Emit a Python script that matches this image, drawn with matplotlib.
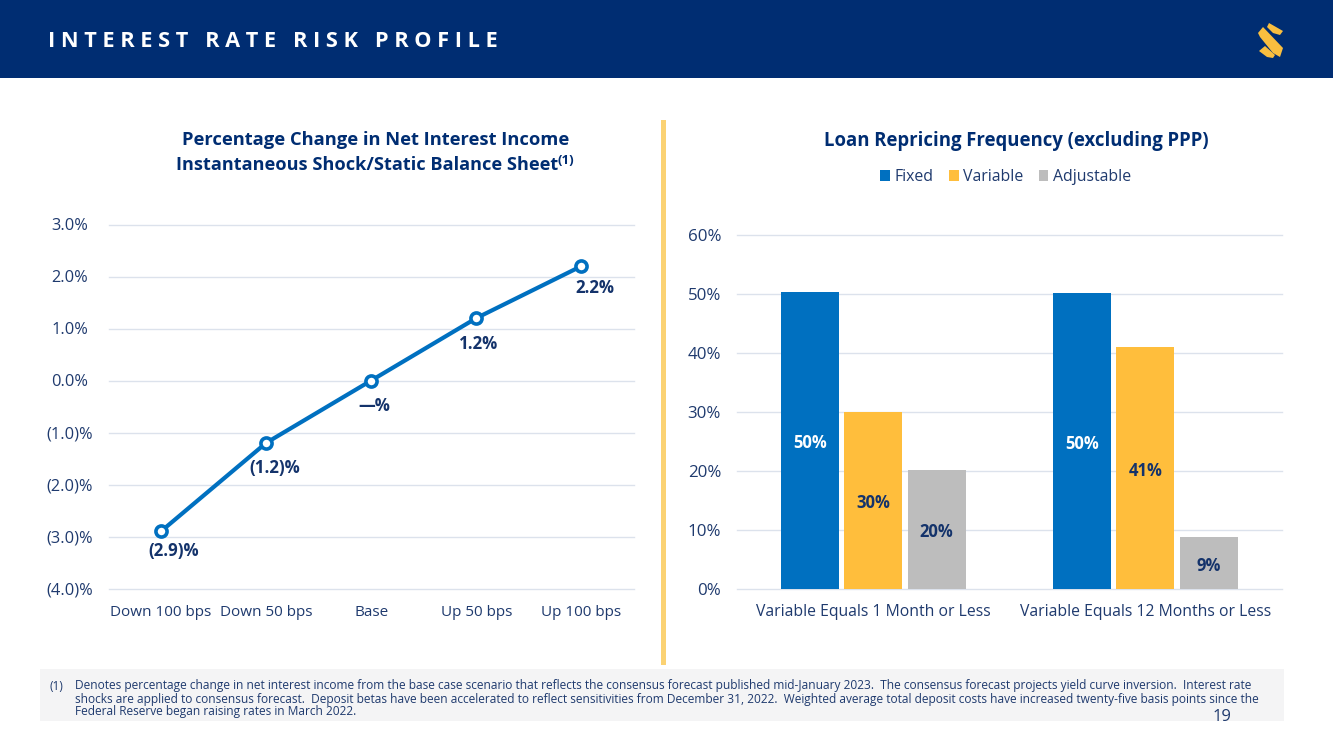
import numpy as np
import matplotlib
matplotlib.use('Agg')
import matplotlib.pyplot as plt
from matplotlib.patches import Rectangle, Polygon

plt.rcParams['font.family'] = ['Open Sans', 'DejaVu Sans']

W, H = 1333, 749
NAVY = '#002D72'
TEXT = '#1F3A6E'
DARK = '#14336B'
BLUE = '#0070C0'
GOLD = '#FFBE3C'
GREY = '#BDBDBD'
GRID = '#DCE2EC'

# left chart
shock_labels = ['Down 100 bps', 'Down 50 bps', 'Base', 'Up 50 bps', 'Up 100 bps']
nii_change = [-2.9, -1.2, 0.0, 1.2, 2.2]
nii_labels = ['(2.9)%', '(1.2)%', '—%', '1.2%', '2.2%']
nii_ticks = [-4, -3, -2, -1, 0, 1, 2, 3]
nii_ticklabels = ['(4.0)%', '(3.0)%', '(2.0)%', '(1.0)%', '0.0%', '1.0%', '2.0%', '3.0%']

# right chart
loan_groups = ['Variable Equals 1 Month or Less', 'Variable Equals 12 Months or Less']
fixed = [50.3, 50.2]
variable = [30.0, 41.0]
adjustable = [20.2, 8.8]
fixed_labels = ['50%', '50%']
variable_labels = ['30%', '41%']
adjustable_labels = ['20%', '9%']
loan_ticks = [0, 10, 20, 30, 40, 50, 60]

header = 'I N T E R E S T   R A T E   R I S K   P R O F I L E'
footnote = [
    'Denotes percentage change in net interest income from the base case scenario that reflects the consensus forecast published mid-January 2023.  The consensus forecast projects yield curve inversion.  Interest rate',
    'shocks are applied to consensus forecast.  Deposit betas have been accelerated to reflect sensitivities from December 31, 2022.  Weighted average total deposit costs have increased twenty-five basis points since the',
    'Federal Reserve began raising rates in March 2022.',
]


def px_axes(x0, y0, x1, y1):
    # pixel box, y from the top
    return fig.add_axes([x0 / W, 1 - y1 / H, (x1 - x0) / W, (y1 - y0) / H])


fig = plt.figure(figsize=(W / 100, H / 100), dpi=100, facecolor='white')

# page furniture in pixel coords
bg = fig.add_axes([0, 0, 1, 1])
bg.set_xlim(0, W)
bg.set_ylim(H, 0)
bg.axis('off')
bg.add_patch(Rectangle((0, 0), W, 78, color=NAVY, lw=0))
bg.add_patch(Rectangle((660.5, 120), 5, 545, color='#FBD273', lw=0))
bg.add_patch(Rectangle((40, 669), 1244, 52, color='#F4F4F5', lw=0))
bg.text(48, 41.5, header, color='white', fontsize=15.7, fontweight='bold', va='center', ha='left')

# logo
bg.add_patch(Polygon([(1269, 23), (1283, 31), (1280, 35), (1273, 33), (1267, 27)], color='#F9BE3F', lw=0))
bg.add_patch(Polygon([(1258, 33), (1263, 27), (1283, 48), (1280, 57), (1273, 53), (1260, 37)], color='#F9BE3F', lw=0))
bg.add_patch(Polygon([(1259, 51), (1265, 46), (1275, 55), (1273, 58), (1267, 57)], color='#F9BE3F', lw=0))

bg.text(375.5, 140, 'Percentage Change in Net Interest Income', color=NAVY, fontsize=13.2,
        fontweight='bold', ha='center', va='center')
bg.text(367, 165, 'Instantaneous Shock/Static Balance Sheet', color=NAVY, fontsize=13.1,
        fontweight='bold', ha='center', va='center')
bg.text(557, 161, '(1)', color=NAVY, fontsize=9.5, fontweight='bold', ha='left', va='center')
bg.text(1016, 141, 'Loan Repricing Frequency (excluding PPP)', color=NAVY, fontsize=13.35,
        fontweight='bold', ha='center', va='center')

# footnote
bg.text(50, 686, '(1)', color=TEXT, fontsize=8.5, ha='left', va='center')
for i, line in enumerate(footnote):
    bg.text(75, 686 + i * 13, line, color=TEXT, fontsize=8.55, ha='left', va='center')
bg.text(1222, 717, '19', color=TEXT, fontsize=12, ha='center', va='center')

# left: line chart
ax = px_axes(108.5, 224.5, 634, 588.5)
ax.set_xlim(-0.5, 4.5)
ax.set_ylim(-4, 3)
ax.plot(range(len(nii_change)), nii_change, color=BLUE, lw=3, marker='o', ms=8,
        mfc='white', mec=BLUE, mew=2.6, zorder=3, clip_on=False)
ax.set_yticks(nii_ticks)
ax.set_yticklabels(nii_ticklabels, ha='center')
ax.set_xticks(range(len(shock_labels)))
ax.set_xticklabels(shock_labels)
ax.grid(axis='y', color=GRID, lw=1, clip_on=False)
ax.set_axisbelow(True)
label_dx = [9.4, 6.5, 2, 1.5, 9.4]
label_dy = [-14, -18, -18.5, -18.5, -16]
for i, lab in enumerate(nii_labels):
    ax.annotate(lab, (i, nii_change[i]), xytext=(label_dx[i], label_dy[i]), textcoords='offset points',
                ha='center', va='center', color=DARK, fontsize=12.2, fontweight='bold')

# right: grouped bars
ax2 = px_axes(737, 235, 1281.5, 589)
x = np.arange(len(loan_groups))
bw = 58 / 272.5
step = 63.5 / 272.5
series = [(fixed, BLUE, 'Fixed', fixed_labels, 'white'),
          (variable, GOLD, 'Variable', variable_labels, DARK),
          (adjustable, GREY, 'Adjustable', adjustable_labels, DARK)]
for i, (vals, col, name, labs, lab_col) in enumerate(series):
    ax2.bar(x + (i - 1) * step, vals, bw, color=col, label=name, zorder=3)
    for j, v in enumerate(vals):
        ax2.annotate(labs[j], (x[j] + (i - 1) * step, v / 2), xytext=(0, -2), textcoords='offset points',
                     ha='center', va='center', color=lab_col, fontsize=12, fontweight='bold', zorder=4)
ax2.set_xlim(-0.5, 1.5)
ax2.set_ylim(0, 60)
ax2.set_yticks(loan_ticks)
ax2.set_yticklabels([str(v) + '%' for v in loan_ticks])
ax2.set_xticks(x)
ax2.set_xticklabels(loan_groups)
ax2.grid(axis='y', color=GRID, lw=1, clip_on=False)
ax2.set_axisbelow(True)
ax2.legend(loc='center', bbox_to_anchor=(269 / 545, 1 + 58 / 354), ncol=3, frameon=False,
           fontsize=11.4, handlelength=0.62, handleheight=0.62, handletextpad=0.3, columnspacing=0.95,
           labelcolor=TEXT)

for a in (ax, ax2):
    for s in a.spines.values():
        s.set_visible(False)
    a.tick_params(length=0, colors=TEXT, labelsize=11.8)
ax.tick_params(axis='x', pad=12, labelsize=11)
ax.tick_params(axis='y', pad=28)
ax2.tick_params(axis='x', pad=10.5, labelsize=11.3)
ax2.tick_params(axis='y', pad=11.5, labelsize=12.2)

fig.savefig('out.png', dpi=100)
